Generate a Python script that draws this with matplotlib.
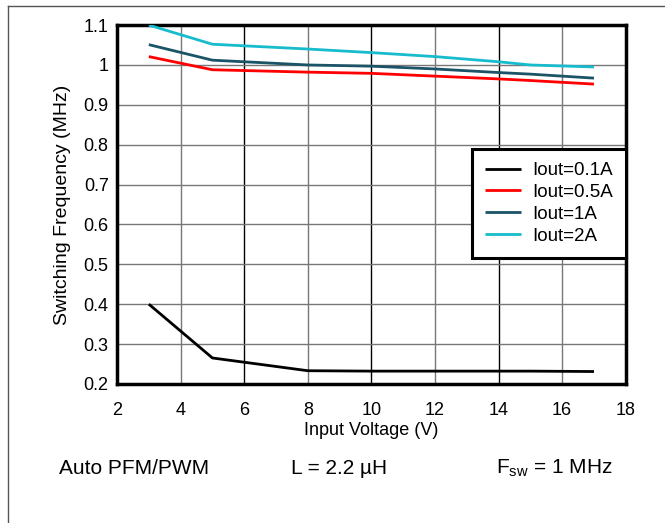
import matplotlib
matplotlib.use('Agg')
import matplotlib.pyplot as plt
from matplotlib.lines import Line2D

plt.rcParams['font.family'] = ['Liberation Sans', 'DejaVu Sans']

VIN = [3, 5, 8, 10, 12, 14, 15, 17]
FREQ_01A = [0.40, 0.265, 0.233, 0.232, 0.232, 0.232, 0.232, 0.231]
FREQ_05A = [1.021, 0.988, 0.982, 0.979, 0.972, 0.965, 0.961, 0.952]
FREQ_1A = [1.051, 1.012, 1.000, 0.997, 0.990, 0.981, 0.977, 0.967]
FREQ_2A = [1.100, 1.052, 1.040, 1.031, 1.021, 1.008, 1.000, 0.995]
LABELS = ['Iout=0.1A', 'Iout=0.5A', 'Iout=1A', 'Iout=2A']
COLORS = ['#000000', '#ff0000', '#1a5466', '#16bccc']
X_TICKS = [2, 4, 6, 8, 10, 12, 14, 16, 18]
Y_TICKS = [0.2, 0.3, 0.4, 0.5, 0.6, 0.7, 0.8, 0.9, 1.0, 1.1]
Y_TICK_LABELS = ['0.2', '0.3', '0.4', '0.5', '0.6', '0.7', '0.8', '0.9', '1', '1.1']

fig = plt.figure(figsize=(6.65, 5.23), dpi=100)
ax = fig.add_axes([0.176, 0.266, 0.765, 0.686])

for y, lab, c in zip([FREQ_01A, FREQ_05A, FREQ_1A, FREQ_2A], LABELS, COLORS):
    ax.plot(VIN, y, color=c, lw=2, label=lab, solid_capstyle='butt', zorder=3)

ax.set_xlim(2, 18)
ax.set_ylim(0.2, 1.1)
ax.set_xticks(X_TICKS)
ax.set_yticks(Y_TICKS)
ax.set_yticklabels(Y_TICK_LABELS)
ax.tick_params(length=0, labelsize=13)
ax.tick_params(axis='x', pad=13)
ax.tick_params(axis='y', pad=6)

# alternating gridlines like the datasheet
for i, x in enumerate(X_TICKS[1:-1]):
    ax.axvline(x, color='black' if i % 2 else '#777777', lw=1, zorder=1)
for y in Y_TICKS[1:-1]:
    ax.axhline(y, color='#777777', lw=1, zorder=1)

for s in ax.spines.values():
    s.set_linewidth(2.5)

ax.set_xlabel('Input Voltage (V)', fontsize=13, labelpad=2)
ax.set_ylabel('Switching Frequency (MHz)', fontsize=14, labelpad=9)

leg = ax.legend(loc='upper right', bbox_to_anchor=(1.0, 0.655), borderaxespad=0,
                fontsize=13.5, frameon=True, fancybox=False, handlelength=1.9,
                labelspacing=0.25, borderpad=0.7, handletextpad=0.6)
leg.get_frame().set_edgecolor('black')
leg.get_frame().set_linewidth(2.2)
leg.get_frame().set_alpha(1)

fig.text(59 / 665, 1 - 468 / 523, 'Auto PFM/PWM', fontsize=15, va='center')
fig.text(291 / 665, 1 - 468 / 523, 'L = 2.2 µH', fontsize=15, va='center')
fig.text(496 / 665, 1 - 468 / 523, r'F$_{\mathregular{sw}}$ = 1 MHz', fontsize=15, va='center')

# partial outer frame
fig.add_artist(Line2D([8 / 665, 8 / 665], [0, 1 - 6 / 523], transform=fig.transFigure, color='#555555', lw=1))
fig.add_artist(Line2D([8 / 665, 1], [1 - 6 / 523, 1 - 6 / 523], transform=fig.transFigure, color='#555555', lw=1))

fig.savefig('out.png', dpi=100)
